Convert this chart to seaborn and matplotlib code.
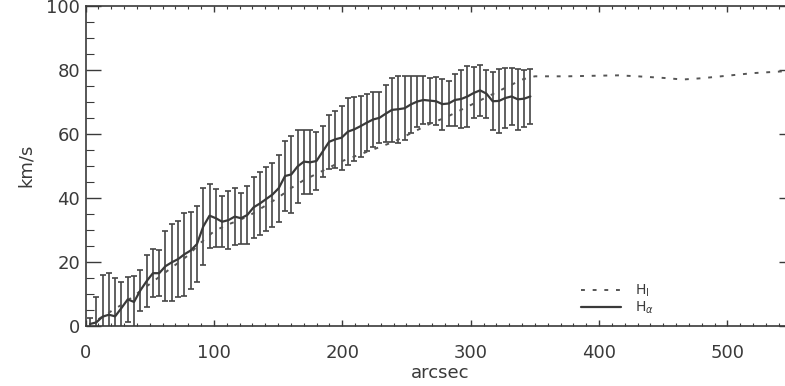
import numpy as np
import pandas as pd
import matplotlib
matplotlib.use("Agg")
import matplotlib.pyplot as plt
import seaborn as sns

# H-alpha rotation curve (arcsec, km/s, error)
ha_r = [3.5, 8.4, 13.3, 18.2, 23.1, 28.0, 32.9, 37.8, 42.7, 47.6, 52.5, 57.4, 62.3, 67.2,
        72.1, 77.0, 81.9, 86.8, 91.7, 96.6, 101.5, 106.4, 111.3, 116.2, 121.1, 126.0,
        130.9, 135.8, 140.7, 145.6, 150.5, 155.4, 160.3, 165.2, 170.1, 175.0, 179.9,
        184.8, 189.7, 194.6, 199.5, 204.4, 209.3, 214.2, 219.1, 224.0, 228.9, 233.8,
        238.7, 243.6, 248.5, 253.4, 258.3, 263.2, 268.1, 273.0, 277.9, 282.8, 287.7,
        292.6, 297.5, 302.4, 307.3, 312.2, 317.1, 322.0, 326.9, 331.8, 336.7, 341.6, 346.5]
ha_v = [0.5, 1.0, 2.8, 3.4, 2.9, 5.5, 8.2, 7.4, 11.0, 13.9, 16.4, 16.4, 18.6, 19.8,
        20.8, 22.3, 23.5, 25.5, 31.0, 34.4, 33.6, 32.5, 33.0, 34.1, 33.6, 34.6,
        37.0, 38.2, 39.6, 41.0, 43.0, 46.8, 47.3, 49.8, 51.3, 51.1, 51.5,
        54.5, 57.5, 58.3, 58.8, 60.7, 61.4, 62.4, 63.5, 64.5, 65.0, 66.3,
        67.5, 67.7, 68.0, 69.2, 70.1, 70.6, 70.4, 70.2, 69.3, 69.5, 70.6,
        70.9, 71.7, 72.8, 73.6, 72.6, 70.2, 70.3, 71.2, 71.7, 70.8, 71.0, 71.7]
ha_e = [2, 8, 13, 13, 12, 8, 7, 8, 6.5, 8.2, 7.6, 7.1, 11, 12,
        12, 13, 12, 12, 12, 10, 9, 8, 9, 9, 8, 9,
        9.5, 10, 10, 10, 10.5, 11, 12, 11.5, 10, 10, 9,
        8, 8.5, 9, 10, 10.5, 10, 9.5, 9, 8.5, 8, 9,
        10, 10.5, 10, 9, 8, 7.5, 7, 7.5, 8, 7, 8,
        9, 9.5, 8, 8, 7.5, 9, 10, 9.5, 9, 9.5, 9, 8.5]

# HI rotation curve
hi_r = [10, 20, 30, 40, 50, 60, 70, 80, 90, 100, 110, 120, 130, 140, 150, 160, 170, 180,
        190, 200, 210, 220, 230, 240, 250, 260, 270, 280, 290, 300, 310, 320, 330, 340,
        350, 375, 400, 415, 430, 450, 465, 480, 500, 520, 545]
hi_v = [2, 4.5, 7, 10, 13, 16, 19, 22, 26, 29.5, 31.5, 33, 35, 37.5, 40, 43, 45.5, 47.5,
        49.5, 51.5, 53, 54.5, 56, 57.5, 59.5, 61.5, 63.5, 65, 67, 69, 71, 73, 75, 77,
        78, 78, 78.2, 78.3, 78, 77.5, 77, 77.4, 78.2, 79, 79.6]

x_ticks = [0, 100, 200, 300, 400, 500]
y_ticks = [0, 20, 40, 60, 80, 100]

sns.set_style("ticks")
plt.rcParams['font.family'] = ['DejaVu Sans']

ink = "#3a3a3a"
fig = plt.figure(figsize=(7.85, 3.86), dpi=100)
W, H = 785, 386
ax = fig.add_axes([85.5 / W, 1 - 325.6 / H, 708.5 / W, 319.6 / H])

ha_df = pd.DataFrame({"r": ha_r, "v": ha_v})
hi_df = pd.DataFrame({"r": hi_r, "v": hi_v})

ax.errorbar(ha_r, ha_v, yerr=ha_e, fmt="none", ecolor="#454545", elinewidth=1.2,
            capsize=2.5, capthick=1.2, zorder=2)
sns.lineplot(data=hi_df, x="r", y="v", ax=ax, color="#555555", lw=1.4,
             dashes=False, label=r"H$_\mathrm{I}$", zorder=3)
ax.lines[-1].set_dashes([2, 4])
sns.lineplot(data=ha_df, x="r", y="v", ax=ax, color=ink, lw=1.6,
             label=r"H$_\alpha$", zorder=4)

ax.set_xlim(0, 551.8)
ax.set_ylim(0, 100)
ax.set_xticks(x_ticks)
ax.set_yticks(y_ticks)
ax.set_xticks(np.arange(0, 552, 10), minor=True)
ax.set_yticks(np.arange(0, 101, 5), minor=True)

ax.tick_params(axis="x", which="major", direction="in", length=4.6, width=1,
               top=True, bottom=True, pad=13, labelsize=13, colors=ink)
ax.tick_params(axis="x", which="minor", direction="in", length=2.3, width=0.8,
               top=True, bottom=True, colors=ink)
ax.tick_params(axis="y", which="major", direction="in", length=10.8, width=1,
               left=True, right=True, pad=4, labelsize=13, colors=ink)
ax.tick_params(axis="y", which="minor", direction="in", length=5.4, width=0.8,
               left=True, right=True, colors=ink)
for s in ax.spines.values():
    s.set_color(ink)
    s.set_linewidth(1.2)

ax.set_xlabel("arcsec", fontsize=13, color=ink, labelpad=2)
ax.set_ylabel("km/s", fontsize=13, color=ink, labelpad=8)

leg = ax.legend(loc="lower left", bbox_to_anchor=(0.685, 0.0), frameon=False,
                fontsize=10, handlelength=2.9, labelspacing=0.05, borderpad=0.2,
                handletextpad=1.0)
for t in leg.get_texts():
    t.set_color(ink)

fig.savefig("out.png", dpi=100)
